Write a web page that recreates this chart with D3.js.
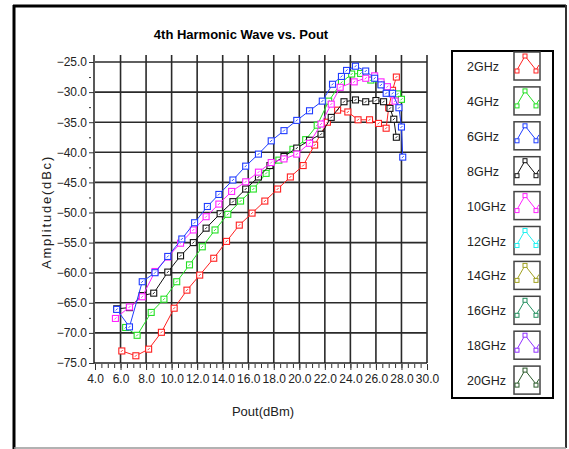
<!DOCTYPE html>
<html>
<head>
<meta charset="utf-8">
<script src="https://cdn.jsdelivr.net/npm/d3@7"></script>
<style>
    body { margin: 0; background: #fff; }
    text { font-family: "Liberation Sans", Arial, sans-serif; }
</style>
</head>
<body>
<script>
// legend labels, one per series (only the first five have data)
const freqs = ["2GHz", "4GHz", "6GHz", "8GHz", "10GHz", "12GHz", "14GHz", "16GHz", "18GHz", "20GHz"];
const colors = ["#ff2020", "#22e022", "#1f3cff", "#111111", "#ff22ff", "#22f0f0", "#a0a020", "#239060", "#9030ff", "#2a5a2a"];

// x ticks (Pout, dBm) and y ticks (dBc)
const xTicks = [4, 6, 8, 10, 12, 14, 16, 18, 20, 22, 24, 26, 28, 30];
const yTicks = [-25, -30, -35, -40, -45, -50, -55, -60, -65, -70, -75];

// values
const pout2G = [6.1, 7.2, 8.2, 9.2, 10.2, 11.2, 12.2, 13.3, 14.3, 15.3, 16.3, 17.3, 18.3, 19.3, 20.3, 21.2, 22.2, 23.0, 23.8, 24.6, 25.5, 26.2, 26.8, 27.0, 27.3, 27.6];
const amp2G = [-73.0, -73.8, -72.7, -69.9, -65.9, -62.9, -60.4, -57.6, -54.8, -52.1, -50.1, -48.1, -46.1, -44.1, -42.2, -38.8, -35.0, -33.0, -33.3, -34.6, -34.6, -35.2, -36.0, -32.6, -29.7, -27.5];

const pout4G = [6.4, 7.3, 8.4, 9.4, 10.4, 11.4, 12.4, 13.4, 14.4, 15.4, 16.4, 17.4, 18.4, 19.5, 20.5, 21.4, 22.3, 23.3, 24.1, 24.8, 25.6, 26.4, 27.1, 27.7, 28.0];
const amp4G = [-69.1, -70.4, -66.6, -64.4, -61.5, -58.7, -55.7, -52.9, -50.3, -48.1, -46.1, -43.5, -41.3, -39.5, -37.9, -35.5, -31.5, -28.4, -27.0, -26.9, -28.0, -28.7, -30.2, -30.3, -31.2];

const pout6G = [5.7, 6.7, 7.7, 8.7, 9.7, 10.8, 11.8, 12.8, 13.7, 14.8, 15.8, 16.8, 17.8, 18.8, 19.8, 20.8, 21.8, 22.6, 23.3, 23.7, 24.4, 25.2, 25.9, 26.4, 26.8, 27.3, 27.8, 28.0, 28.1];
const amp6G = [-66.1, -69.0, -61.5, -60.0, -57.3, -54.4, -51.7, -49.0, -47.0, -44.6, -42.3, -40.3, -38.1, -36.4, -34.7, -33.1, -31.5, -28.7, -27.4, -26.4, -25.7, -26.5, -27.7, -28.8, -30.2, -30.2, -32.6, -35.8, -40.8];

const pout8G = [5.7, 6.7, 7.7, 8.6, 9.7, 10.7, 11.7, 12.7, 13.8, 14.8, 15.8, 16.8, 17.7, 18.8, 19.8, 20.8, 21.7, 22.5, 23.5, 24.4, 25.2, 26.0, 26.6, 27.1, 27.4, 27.6];
const amp8G = [-66.0, -65.8, -63.8, -63.4, -59.9, -57.2, -55.0, -52.6, -50.2, -48.2, -46.1, -44.1, -42.2, -40.7, -39.3, -38.0, -37.0, -34.2, -31.6, -31.3, -31.6, -31.4, -31.6, -32.7, -34.5, -37.5];

const pout10G = [5.6, 6.7, 7.7, 8.7, 9.7, 10.7, 11.7, 12.7, 13.7, 14.7, 15.8, 16.8, 17.8, 18.8, 19.8, 20.8, 21.7, 22.5, 23.2, 24.3, 25.2, 25.9, 26.4, 26.9, 27.3, 27.5];
const amp10G = [-67.6, -65.7, -64.0, -59.8, -57.4, -55.1, -52.9, -50.7, -48.6, -46.5, -44.9, -43.3, -41.7, -41.1, -40.3, -38.5, -35.3, -32.0, -29.2, -28.3, -27.7, -27.3, -28.3, -29.1, -30.3, -31.5];

const series = [
    { name: freqs[0], color: colors[0], x: pout2G, y: amp2G },
    { name: freqs[1], color: colors[1], x: pout4G, y: amp4G },
    { name: freqs[3], color: colors[3], x: pout8G, y: amp8G },
    { name: freqs[4], color: colors[4], x: pout10G, y: amp10G },
    { name: freqs[2], color: colors[2], x: pout6G, y: amp6G }
];

const svg = d3.select("body")
    .append("svg")
    .attr("width", 569)
    .attr("height", 449);

// outer frame
svg.append("line").attr("x1", 13).attr("y1", 6).attr("x2", 566).attr("y2", 6)
    .attr("stroke", "#000").attr("stroke-width", 3);
svg.append("line").attr("x1", 14).attr("y1", 5).attr("x2", 14).attr("y2", 449)
    .attr("stroke", "#000").attr("stroke-width", 3);
svg.append("line").attr("x1", 566).attr("y1", 5).attr("x2", 566).attr("y2", 448)
    .attr("stroke", "#333").attr("stroke-width", 2);
svg.append("line").attr("x1", 14).attr("y1", 448).attr("x2", 566).attr("y2", 448)
    .attr("stroke", "#999").attr("stroke-width", 1.5);

const x = d3.scaleLinear().domain([4, 30]).range([95, 427]);
const y = d3.scaleLinear().domain([-75, -25]).range([363, 62]);
const plotTop = 55;

// title
svg.append("text")
    .attr("x", 241).attr("y", 39)
    .attr("text-anchor", "middle")
    .attr("font-size", 13)
    .attr("font-weight", "bold")
    .text("4th Harmonic Wave vs. Pout");

// grid
const grid = svg.append("g").attr("stroke", "#2a2a2a").attr("stroke-width", 1.6);
grid.selectAll(".vx")
    .data(xTicks.slice(1))
    .enter()
    .append("line")
    .attr("x1", d => x(d)).attr("x2", d => x(d))
    .attr("y1", plotTop).attr("y2", y(-75));
grid.selectAll(".hy")
    .data(yTicks.slice(0, -1))
    .enter()
    .append("line")
    .attr("x1", x(4)).attr("x2", x(30))
    .attr("y1", d => y(d)).attr("y2", d => y(d));

// axis lines
svg.append("line").attr("x1", x(4) - 1).attr("x2", x(4) - 1)
    .attr("y1", plotTop).attr("y2", y(-75))
    .attr("stroke", "#222").attr("stroke-width", 1.5);
svg.append("line").attr("x1", x(4) - 1).attr("x2", x(30))
    .attr("y1", y(-75)).attr("y2", y(-75))
    .attr("stroke", "#222").attr("stroke-width", 1.5);

// x axis: major and minor ticks
const xMajor = svg.append("g")
    .attr("transform", `translate(0,${y(-75) + 1})`)
    .call(d3.axisBottom(x).tickValues(xTicks).tickFormat(d3.format(".1f")).tickSize(6).tickSizeOuter(0).tickPadding(4));
const xMinor = svg.append("g")
    .attr("transform", `translate(0,${y(-75) + 1})`)
    .call(d3.axisBottom(x).tickValues(d3.range(4, 30.01, 0.5)).tickFormat("").tickSize(4).tickSizeOuter(0));

// y axis
const yMajor = svg.append("g")
    .attr("transform", `translate(${x(4) - 1},0)`)
    .call(d3.axisLeft(y).tickValues(yTicks).tickFormat(d3.format(".1f")).tickSize(5).tickSizeOuter(0).tickPadding(2));
const yMinor = svg.append("g")
    .attr("transform", `translate(${x(4) - 4},0)`)
    .call(d3.axisLeft(y).tickValues(d3.range(-72.5, -25, 5)).tickFormat("").tickSize(2).tickSizeOuter(0));

[xMajor, xMinor, yMajor, yMinor].forEach(g => {
    g.select(".domain").remove();
    g.selectAll("line").attr("stroke", "#333");
    g.selectAll("text").attr("font-size", 12).attr("fill", "#222")
        .attr("font-family", "'Liberation Sans', Arial, sans-serif");
});

// axis titles
svg.append("text")
    .attr("x", 263).attr("y", 416)
    .attr("text-anchor", "middle")
    .attr("font-size", 13)
    .attr("fill", "#222")
    .text("Pout(dBm)");
svg.append("text")
    .attr("transform", "translate(51,212) rotate(-90)")
    .attr("text-anchor", "middle")
    .attr("font-size", 13)
    .attr("letter-spacing", 1.8)
    .attr("fill", "#222")
    .text("Amplitude(dBc)");

// series lines and markers
const line = d3.line()
    .x(d => x(d[0]))
    .y(d => y(d[1]));

series.forEach(s => {
    const pts = s.x.map((v, i) => [v, s.y[i]]);
    const g = svg.append("g");
    g.append("path")
        .attr("d", line(pts))
        .attr("fill", "none")
        .attr("stroke", s.color)
        .attr("stroke-width", 1);
    const m = g.selectAll("g")
        .data(pts)
        .enter()
        .append("g")
        .attr("transform", d => `translate(${x(d[0])},${y(d[1])})`);
    m.append("rect")
        .attr("x", -3).attr("y", -3)
        .attr("width", 6).attr("height", 6)
        .attr("fill", "#fff")
        .attr("stroke", s.color)
        .attr("stroke-width", 1.1);
    m.append("path")
        .attr("d", "M-1,1L1,-1")
        .attr("stroke", s.color)
        .attr("stroke-width", 0.9);
});

// legend
const legend = svg.append("g");
legend.append("rect")
    .attr("x", 452).attr("y", 51)
    .attr("width", 101).attr("height", 347)
    .attr("fill", "#fff")
    .attr("stroke", "#000")
    .attr("stroke-width", 2);

const item = legend.selectAll(".item")
    .data(freqs)
    .enter()
    .append("g")
    .attr("transform", (d, i) => `translate(0,${66 + i * 34.9})`);

item.append("text")
    .attr("x", 467).attr("y", 5)
    .attr("font-size", 12.5)
    .attr("fill", "#222")
    .text(d => d);

item.append("rect")
    .attr("x", 514).attr("y", -14)
    .attr("width", 26).attr("height", 28)
    .attr("fill", "#fff")
    .attr("stroke", "#444")
    .attr("stroke-width", 1.5);

item.append("path")
    .attr("d", "M517,4L525,-10L536,4L539,-1")
    .attr("fill", "none")
    .attr("stroke", (d, i) => colors[i])
    .attr("stroke-width", 1);

item.selectAll(".mk")
    .data((d, i) => [[517, 5, i], [525, -10, i], [536, 5, i]])
    .enter()
    .append("rect")
    .attr("x", d => d[0] - 2).attr("y", d => d[1] - 2)
    .attr("width", 4).attr("height", 4)
    .attr("fill", "#fff")
    .attr("stroke", d => colors[d[2]])
    .attr("stroke-width", 1);
</script>
</body>
</html>
